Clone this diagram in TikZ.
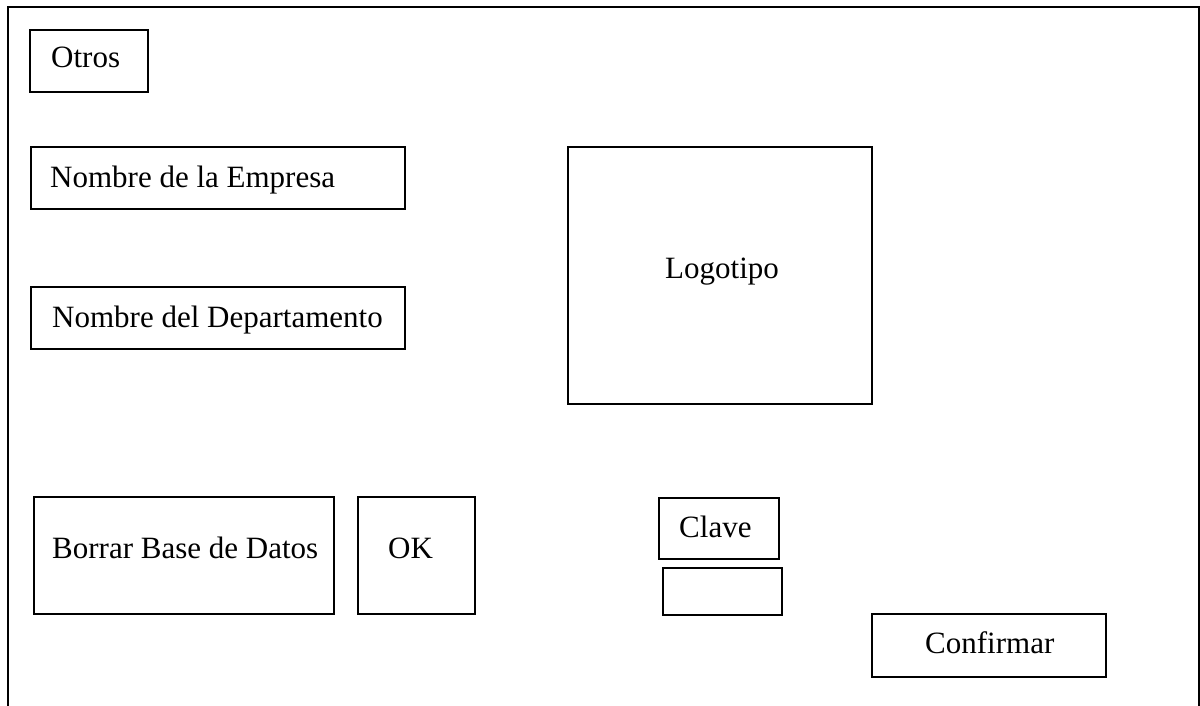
\documentclass[tikz,border=0pt]{standalone}
\usepackage{fontspec}
\setmainfont{Liberation Serif}
\begin{document}
\begin{tikzpicture}[x=1pt,y=-1pt,
  box/.style={draw=black,line width=1.8pt,rectangle,inner sep=0pt},
  lbl/.style={anchor=base west,inner sep=0pt,font=\fontsize{31}{37}\selectfont}]
\useasboundingbox (0,0) rectangle (1200,706);
% outer window frame (open at the bottom)
\draw[line width=2pt] (8,712) -- (8,7) -- (1199,7) -- (1199,712);
% boxes, given by corner positions
\newcommand{\wbox}[5]{\node[box,minimum width={(#4-#2)*1pt},minimum height={(#5-#3)*1pt}] (#1) at ({(#2+#4)/2},{(#3+#5)/2}) {};}
\wbox{otros}{30}{30}{148}{92}
\wbox{empresa}{31}{147}{405}{209}
\wbox{depto}{31}{287}{405}{349}
\wbox{logo}{568}{147}{872}{404}
\wbox{borrar}{34}{497}{334}{614}
\wbox{ok}{358}{497}{475}{614}
\wbox{clave}{659}{498}{779}{559}
\wbox{campo}{663}{568}{782}{615}
\wbox{confirmar}{872}{614}{1106}{677}
% labels
\node[lbl] (tOtros) at (51,68) {Otros};
\node[lbl] (tEmpresa) at (50,187) {Nombre de la Empresa};
\node[lbl] (tDepto) at (52,327) {Nombre del Departamento};
\node[lbl] (tLogo) at (665,278) {Logotipo};
\node[lbl] (tBorrar) at (52,558) {Borrar Base de Datos};
\node[lbl] (tOK) at (388,558) {OK};
\node[lbl] (tClave) at (679,537) {Clave};
\node[lbl] (tConfirmar) at (925,653) {Confirmar};
\end{tikzpicture}
\end{document}
